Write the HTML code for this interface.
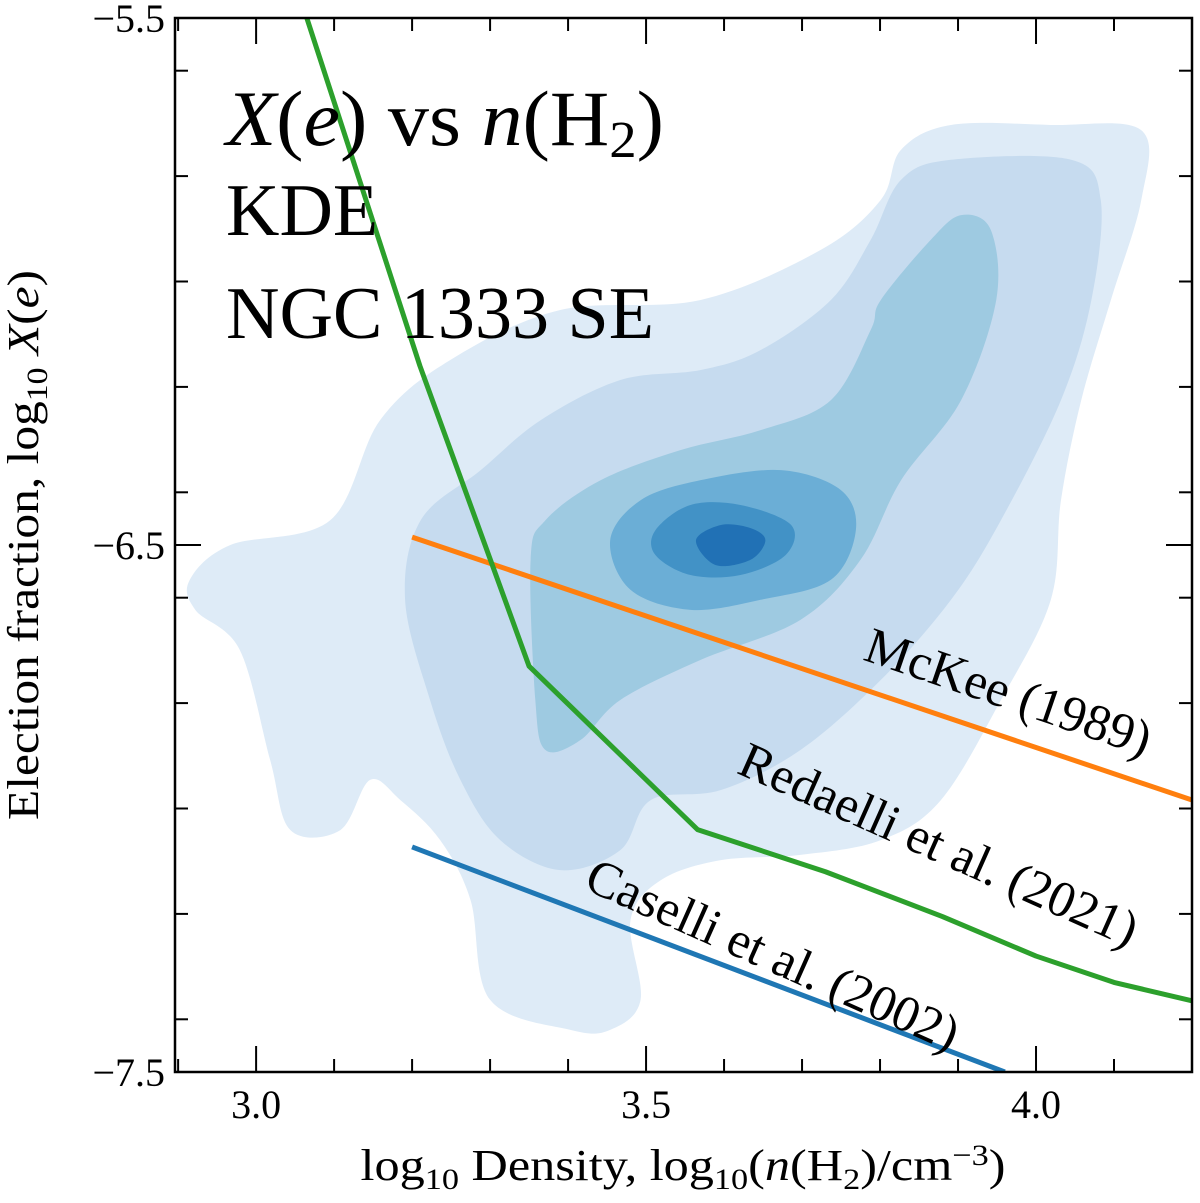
<!DOCTYPE html>
<html><head><meta charset="utf-8"><style>
html,body{margin:0;padding:0;background:#fff;}
svg text{font-family:"Liberation Serif",serif;fill:#000;}
</style></head><body>
<svg id="chart" width="1200" height="1198" viewBox="0 0 1200 1198" xmlns="http://www.w3.org/2000/svg">
<g id="contours"></g>
<g id="lines"></g>
<g id="axes"></g>
<text x="226" y="145" style="font-size:78px" textLength="438" lengthAdjust="spacingAndGlyphs"><tspan font-style="italic">X</tspan>(<tspan font-style="italic">e</tspan>) vs <tspan font-style="italic">n</tspan>(H<tspan style="font-size:52px" dy="12">2</tspan><tspan dy="-12">)</tspan></text>
<text x="226" y="235" style="font-size:74px">KDE</text>
<text x="226" y="338" style="font-size:74px" textLength="428" lengthAdjust="spacingAndGlyphs">NGC 1333 SE</text>
<text style="font-size:51px" text-anchor="middle" transform="translate(1003,708) rotate(19)">McKee (1989)</text>
<text style="font-size:51px" text-anchor="middle" transform="translate(932,860) rotate(24)">Redaelli et al. (2021)</text>
<text style="font-size:51px" text-anchor="middle" transform="translate(766,970) rotate(24)">Caselli et al. (2002)</text>
<text x="683" y="1180" style="font-size:44px" text-anchor="middle" textLength="645" lengthAdjust="spacingAndGlyphs">log<tspan style="font-size:30px" dy="9">10</tspan><tspan dy="-9"> Density, log</tspan><tspan style="font-size:30px" dy="9">10</tspan><tspan dy="-9">(</tspan><tspan font-style="italic">n</tspan>(H<tspan style="font-size:30px" dy="9">2</tspan><tspan dy="-9">)/cm</tspan><tspan style="font-size:30px" dy="-15">−3</tspan><tspan dy="15">)</tspan></text>
<text style="font-size:44px" text-anchor="middle" transform="translate(38,545) rotate(-90)" textLength="550" lengthAdjust="spacingAndGlyphs">Election fraction, log<tspan style="font-size:30px" dy="9">10</tspan><tspan dy="-9"> </tspan><tspan font-style="italic">X</tspan>(<tspan font-style="italic">e</tspan>)</text>
</svg>
<script>
const xDomain=[2.896,4.2], yDomain=[-5.5,-7.5];
const xMajor=[3.0,3.5,4.0], xMajorLabels=["3.0","3.5","4.0"];
const yMajor=[-5.5,-6.5,-7.5], yMajorLabels=["−5.5","−6.5","−7.5"];
const xMinor=[2.9,3.1,3.2,3.3,3.4,3.6,3.7,3.8,3.9,4.1,4.2];
const yMinor=[-5.6,-5.8,-6.0,-6.2,-6.4,-6.6,-6.8,-7.0,-7.2,-7.4];
const mckeeX=[3.2,4.2], mckeeY=[-6.485,-6.984];
const caselliX=[3.2,3.96], caselliY=[-7.073,-7.5];
const redaelliX=[3.065,3.21,3.35,3.566,3.73,3.88,4.0,4.1,4.2];
const redaelliY=[-5.5,-6.16,-6.73,-7.04,-7.12,-7.205,-7.28,-7.33,-7.365];
const levelColors=["#deebf7","#c6dbef","#9ecae1","#6baed6","#4292c6","#2171b5"];
const level1=[[2.915,-6.566],[2.967,-6.5],[3.095,-6.453],[3.159,-6.263],[3.249,-6.149],[3.390,-6.054],[3.570,-6.035],[3.724,-5.940],[3.801,-5.845],[3.827,-5.750],[3.891,-5.703],[4.019,-5.703],[4.135,-5.713],[4.135,-5.845],[4.096,-6.035],[4.058,-6.225],[4.032,-6.415],[4.019,-6.604],[3.955,-6.794],[3.878,-6.984],[3.801,-7.060],[3.698,-7.088],[3.596,-7.098],[3.519,-7.136],[3.480,-7.212],[3.493,-7.363],[3.454,-7.420],[3.403,-7.420],[3.300,-7.363],[3.275,-7.174],[3.236,-7.060],[3.185,-6.984],[3.146,-6.946],[3.108,-7.041],[3.044,-7.041],[3.018,-6.908],[2.979,-6.699],[2.922,-6.623]];
const level2=[[3.191,-6.604],[3.211,-6.453],[3.288,-6.358],[3.365,-6.263],[3.467,-6.187],[3.570,-6.168],[3.647,-6.130],[3.737,-6.035],[3.788,-5.921],[3.827,-5.807],[3.891,-5.769],[4.045,-5.769],[4.083,-5.845],[4.071,-6.035],[4.032,-6.225],[3.955,-6.453],[3.891,-6.604],[3.801,-6.756],[3.698,-6.889],[3.596,-6.965],[3.506,-6.984],[3.467,-7.079],[3.390,-7.117],[3.313,-7.060],[3.262,-6.946],[3.223,-6.794]];
const level3=[[3.352,-6.528],[3.371,-6.453],[3.442,-6.377],[3.544,-6.320],[3.647,-6.282],[3.737,-6.225],[3.788,-6.092],[3.801,-6.035],[3.865,-5.921],[3.904,-5.874],[3.942,-5.902],[3.949,-6.035],[3.904,-6.225],[3.827,-6.377],[3.775,-6.528],[3.698,-6.642],[3.570,-6.718],[3.467,-6.794],[3.416,-6.870],[3.371,-6.889],[3.358,-6.794]];
const level4=[[3.454,-6.491],[3.493,-6.415],[3.570,-6.377],[3.673,-6.358],[3.750,-6.396],[3.769,-6.472],[3.737,-6.566],[3.647,-6.604],[3.557,-6.623],[3.480,-6.585]];
const level5=[[3.512,-6.472],[3.557,-6.424],[3.621,-6.424],[3.686,-6.462],[3.679,-6.519],[3.621,-6.557],[3.557,-6.557],[3.512,-6.519]];
const level6=[[3.564,-6.491],[3.596,-6.462],[3.634,-6.468],[3.653,-6.491],[3.634,-6.528],[3.589,-6.538]];

const L=175,R=1192,T=18,B=1072;
const sx=v=>L+(v-xDomain[0])/(xDomain[1]-xDomain[0])*(R-L);
const sy=v=>T+(v-yDomain[0])/(yDomain[1]-yDomain[0])*(B-T);
const NS="http://www.w3.org/2000/svg";
function mk(tag,parent,attrs){const e=document.createElementNS(NS,tag);for(const k in attrs)e.setAttribute(k,attrs[k]);parent.appendChild(e);return e;}
function smooth(pts){const p=pts.map(q=>[sx(q[0]),sy(q[1])]);const n=p.length;let d=`M${p[0][0]},${p[0][1]}`;
for(let i=0;i<n;i++){const p0=p[(i-1+n)%n],p1=p[i],p2=p[(i+1)%n],p3=p[(i+2)%n];
d+=`C${p1[0]+(p2[0]-p0[0])/6},${p1[1]+(p2[1]-p0[1])/6} ${p2[0]-(p3[0]-p1[0])/6},${p2[1]-(p3[1]-p1[1])/6} ${p2[0]},${p2[1]}`;}return d+"Z";}
const cg=document.getElementById('contours');
const clip=mk('clipPath',document.getElementById('chart'),{id:'plotclip'});
mk('rect',clip,{x:L,y:T,width:R-L,height:B-T});
cg.setAttribute('clip-path','url(#plotclip)');
const levels=[level1,level2,level3,level4,level5,level6];
levels.forEach((lv,i)=>{const e=mk('path',cg,{d:smooth(lv),fill:levelColors[i]});

});
const lg=document.getElementById('lines');
lg.setAttribute('clip-path','url(#plotclip)');
function line(xs,ys,color,name){const e=mk('polyline',lg,{points:xs.map((x,i)=>sx(x)+','+sy(ys[i])).join(' '),fill:'none',stroke:color,'stroke-width':5,'stroke-linejoin':'round'});

}
line(mckeeX,mckeeY,'#ff7f0e','mckee-line');
line(caselliX,caselliY,'#1f77b4','caselli-line');
line(redaelliX,redaelliY,'#2ca02c','redaelli-line');
const ax=document.getElementById('axes');
const fr=mk('rect',ax,{x:L,y:T,width:R-L,height:B-T,fill:'none',stroke:'#000','stroke-width':2.5});


function tick(x1,y1,x2,y2){mk('line',ax,{x1,y1,x2,y2,stroke:'#000','stroke-width':2});}
xMajor.forEach((v,i)=>{const x=sx(v);tick(x,B,x,B-26);tick(x,T,x,T+26);
const t=mk('text',ax,{x:x,y:B+46,style:'font-size:40px','text-anchor':'middle'});t.textContent=xMajorLabels[i];

});
xMinor.forEach(v=>{const x=sx(v);if(x<L+1||x>R-1)return;tick(x,B,x,B-13);tick(x,T,x,T+13);});
yMajor.forEach((v,i)=>{const y=sy(v);tick(L,y,L+26,y);tick(R,y,R-26,y);
const t=mk('text',ax,{x:L-10,y:y+14,style:'font-size:40px','text-anchor':'end'});t.textContent=yMajorLabels[i];

});
yMinor.forEach(v=>{const y=sy(v);tick(L,y,L+13,y);tick(R,y,R-13,y);});
</script>
</body></html>
